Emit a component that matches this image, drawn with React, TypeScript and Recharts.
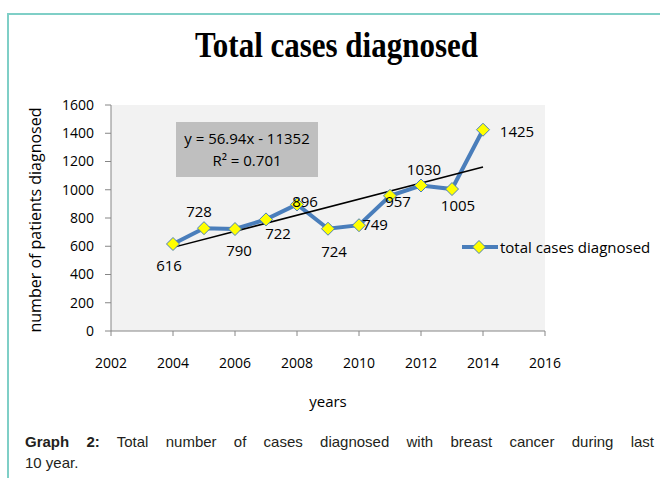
import { CartesianGrid, Legend, LabelList, Line, LineChart, ReferenceLine, XAxis, YAxis } from "recharts";

const years = [2004, 2005, 2006, 2007, 2008, 2009, 2010, 2011, 2012, 2013, 2014];
const totalCases = [616, 728, 722, 790, 896, 724, 749, 957, 1030, 1005, 1425];
// label texts as they appear beside each point in the figure
const pointLabels = ["616", "728", "790", "722", "896", "724", "749", "957", "1030", "1005", "1425"];
const xTicks = [2002, 2004, 2006, 2008, 2010, 2012, 2014, 2016];
const yTicks = [0, 200, 400, 600, 800, 1000, 1200, 1400, 1600];
const trendYears = [2004, 2014];
const trendValues = [592, 1161];

// label offsets from the point (dx, dy of the text centre)
const labelOffsets = [
  [-4, 22],
  [-5, -16],
  [4, 22],
  [12, 14],
  [8, -3],
  [6, 23],
  [16, 0],
  [8, 6],
  [3, -16],
  [6, 17],
  [34, 2],
];

const blue = "#4a7ebb";
const axisGray = "#868686";
const sans = "'Open Sans', sans-serif";

const data = years.map((year, i) => ({ year, cases: totalCases[i] }));

function Diamond({ cx, cy, index }: { cx?: number; cy?: number; index?: number }) {
  if (cx == null || cy == null) return null;
  const r = 6.5;
  return (
    <polygon
      key={`d-${index}`}
      points={`${cx},${cy - r} ${cx + r},${cy} ${cx},${cy + r} ${cx - r},${cy}`}
      fill="#ffff00"
      stroke={blue}
      strokeWidth={1}
    />
  );
}

function PointLabel(props: any) {
  const { x, y, index } = props;
  const [dx, dy] = labelOffsets[index] ?? [0, -12];
  return (
    <text
      x={x + dx}
      y={y + dy}
      dy="0.35em"
      textAnchor="middle"
      fontFamily={sans}
      fontSize={15}
      fill="#000"
    >
      {pointLabels[index]}
    </text>
  );
}

function XTick({ x, y, payload }: any) {
  return (
    <text x={x} y={y + 30} textAnchor="middle" fontFamily={sans} fontSize={14} fill="#000">
      {payload.value}
    </text>
  );
}

function YTick({ x, y, payload }: any) {
  return (
    <text x={x - 9} y={y} dy="0.35em" textAnchor="end" fontFamily={sans} fontSize={14} fill="#000">
      {payload.value}
    </text>
  );
}

function LegendContent() {
  return (
    <div style={{ display: "flex", alignItems: "center", fontFamily: sans, fontSize: 15, color: "#000", whiteSpace: "nowrap" }}>
      <svg width={38} height={16}>
        <line x1={0} y1={8} x2={36} y2={8} stroke={blue} strokeWidth={4} />
        <polygon points="17,1.5 23.5,8 17,14.5 10.5,8" fill="#ffff00" stroke={blue} strokeWidth={1} />
      </svg>
      <span>total cases diagnosed</span>
    </div>
  );
}

export default function App() {
  return (
    <div style={{ position: "absolute", left: 0, top: 0, width: 660, height: 478, background: "#fff", overflow: "hidden" }}>
      {/* frame */}
      <div style={{ position: "absolute", left: 7, top: 13, width: 653, height: 2, background: "#7fcfc7" }} />
      <div style={{ position: "absolute", left: 7, top: 13, width: 2, height: 465, background: "#7fcfc7" }} />

      <svg style={{ position: "absolute", left: 0, top: 0 }} width={660} height={80}>
        <text
          x={195}
          y={57}
          textLength={283}
          lengthAdjust="spacingAndGlyphs"
          fontFamily="'Liberation Serif', 'Times New Roman', serif"
          fontWeight="bold"
          fontSize={35}
          fill="#000"
        >
          Total cases diagnosed
        </text>
      </svg>

      <div style={{ position: "absolute", left: 0, top: 0 }}>
        <LineChart width={660} height={478} data={data} margin={{ top: 105, right: 115, bottom: 117, left: 51 }}>
          <CartesianGrid horizontal={false} vertical={false} fill="#f2f2f2" />
          <XAxis
            dataKey="year"
            type="number"
            domain={[2002, 2016]}
            ticks={xTicks}
            interval={0}
            height={30}
            axisLine={{ stroke: axisGray }}
            tickLine={{ stroke: axisGray }}
            tickSize={5}
            tick={<XTick />}
          />
          <YAxis
            type="number"
            domain={[0, 1600]}
            ticks={yTicks}
            interval={0}
            width={60}
            axisLine={{ stroke: axisGray }}
            tickLine={{ stroke: axisGray }}
            tickSize={6}
            tick={<YTick />}
          />
          <Legend
            layout="horizontal"
            align="center"
            verticalAlign="middle"
            content={<LegendContent />}
            wrapperStyle={{ position: "absolute", left: 462, top: 237, width: 198 }}
          />
          <Line
            dataKey="cases"
            name="total cases diagnosed"
            stroke={blue}
            strokeWidth={4}
            dot={<Diamond />}
            activeDot={false}
            isAnimationActive={false}
          >
            <LabelList dataKey="cases" content={<PointLabel />} />
          </Line>
          <ReferenceLine
            segment={[
              { x: trendYears[0], y: trendValues[0] },
              { x: trendYears[1], y: trendValues[1] },
            ]}
            stroke="#000"
            strokeWidth={1.5}
            ifOverflow="visible"
          />
        </LineChart>
      </div>

      {/* axis titles */}
      <div
        style={{
          position: "absolute",
          left: 35,
          top: 220,
          transform: "translate(-50%, -50%) rotate(-90deg)",
          fontFamily: sans,
          fontSize: 16,
          whiteSpace: "nowrap",
          color: "#000",
        }}
      >
        number of patients diagnosed
      </div>
      <div
        style={{
          position: "absolute",
          left: 328,
          top: 401,
          transform: "translate(-50%, -50%)",
          fontFamily: sans,
          fontSize: 15,
          color: "#000",
        }}
      >
        years
      </div>

      {/* regression box */}
      <div
        style={{
          position: "absolute",
          left: 176,
          top: 122,
          width: 142,
          height: 55,
          background: "#bfbfbf",
          fontFamily: sans,
          fontSize: 15,
          lineHeight: "22px",
          textAlign: "center",
          paddingTop: 5,
          boxSizing: "border-box",
          color: "#000",
        }}
      >
        <div>y = 56.94x - 11352</div>
        <div>R² = 0.701</div>
      </div>

      {/* caption */}
      <div
        style={{
          position: "absolute",
          left: 25,
          top: 431,
          width: 629,
          fontFamily: "'Liberation Sans', Arial, sans-serif",
          fontSize: 15,
          lineHeight: "21px",
          color: "#231f20",
        }}
      >
        <div style={{ textAlign: "justify", textAlignLast: "justify" }}>
          <b>Graph 2:</b> Total number of cases diagnosed with breast cancer during last
        </div>
        <div>10 year.</div>
      </div>
    </div>
  );
}
